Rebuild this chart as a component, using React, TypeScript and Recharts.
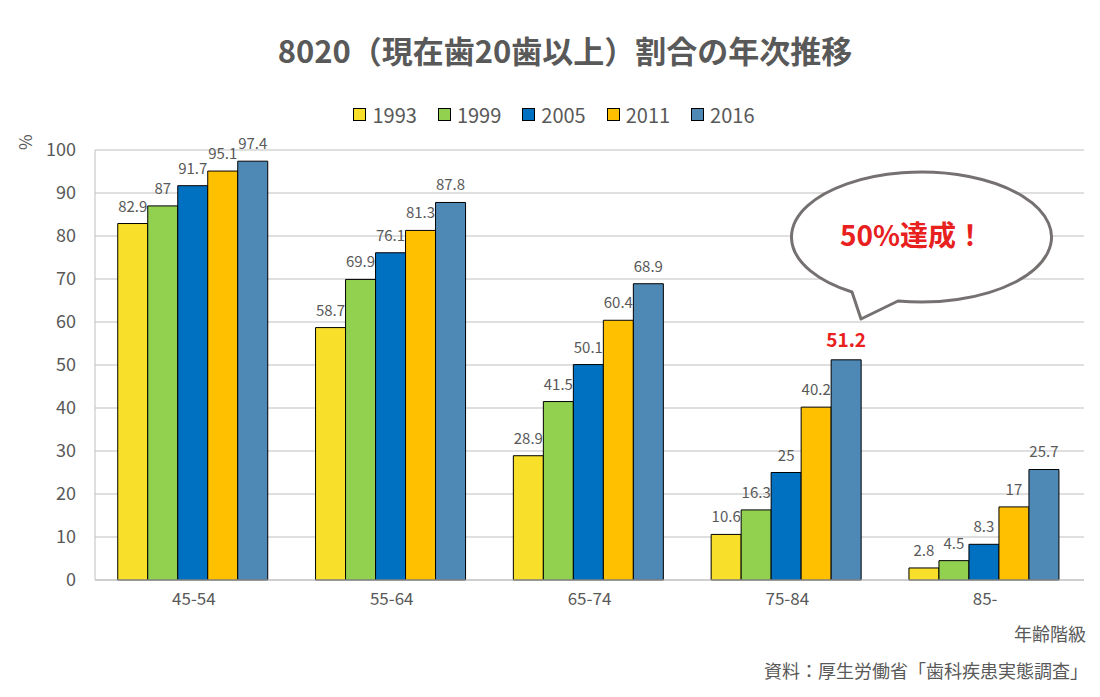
import React from 'react';
import { Bar, BarChart, CartesianGrid, LabelList, XAxis, YAxis } from 'recharts';

const ageGroups = ['45-54', '55-64', '65-74', '75-84', '85-'];
const years = ['1993', '1999', '2005', '2011', '2016'];
const v1993 = [82.9, 58.7, 28.9, 10.6, 2.8];
const v1999 = [87, 69.9, 41.5, 16.3, 4.5];
const v2005 = [91.7, 76.1, 50.1, 25, 8.3];
const v2011 = [95.1, 81.3, 60.4, 40.2, 17];
const v2016 = [97.4, 87.8, 68.9, 51.2, 25.7];
const yTicks = [0, 10, 20, 30, 40, 50, 60, 70, 80, 90, 100];

const colors = ['#F7DF2A', '#92D050', '#0070C0', '#FFC000', '#4E89B6'];
const series = [v1993, v1999, v2005, v2011, v2016];

const data = ageGroups.map((age, i) => {
  const row: Record<string, string | number> = { age };
  years.forEach((y, k) => { row[y] = series[k][i]; });
  return row;
});

const FONT = '"Noto Sans CJK JP", "Noto Sans", sans-serif';
const GRAY = '#595959';

const highlightLabel = (props: any) => {
  const { x, y, width, value, index } = props;
  const hot = index === 3;
  return (
    <text
      x={x + width / 2}
      y={y - (hot ? 13 : 12)}
      textAnchor='middle'
      fill={hot ? '#E8201E' : GRAY}
      fontSize={hot ? 19 : 15}
      fontWeight={hot ? 700 : 400}
      fontFamily={FONT}
    >
      {value}
    </text>
  );
};

function App (): JSX.Element {
  return (
    <div style={{ position: 'absolute', left: 0, top: 0, width: 1100, height: 697, background: '#fff', fontFamily: FONT }}>
      <div style={{ position: 'absolute', top: 27, left: 0, width: 1130, textAlign: 'center', fontSize: 31, fontWeight: 700, color: GRAY }}>
        8020（現在歯20歯以上）割合の年次推移
      </div>
      <div style={{ position: 'absolute', top: 100, left: 0, width: 1108, display: 'flex', justifyContent: 'center', gap: 21, fontSize: 20, color: GRAY }}>
        {years.map((y, k) => (
          <div key={y} style={{ display: 'flex', alignItems: 'center' }}>
            <span style={{ width: 11, height: 11, background: colors[k], border: '1px solid #000', marginRight: 6, display: 'inline-block' }} />
            <span>{y}</span>
          </div>
        ))}
      </div>
      <BarChart
        width={1100}
        height={697}
        data={data}
        margin={{ top: 150, right: 16, bottom: 87, left: 35 }}
        barCategoryGap='11.5%'
        barGap={0}
      >
        <CartesianGrid vertical={false} stroke='#BFBFBF' />
        <XAxis
          dataKey='age'
          height={30}
          axisLine={{ stroke: '#BFBFBF' }}
          tickLine={false}
          tickSize={0}
          tickMargin={13}
          tick={{ fill: GRAY, fontSize: 17, fontFamily: FONT }}
        />
        <YAxis
          width={60}
          domain={[0, 100]}
          ticks={yTicks}
          interval={0}
          axisLine={{ stroke: '#BFBFBF' }}
          tickLine={false}
          tickSize={0}
          tickMargin={19}
          tick={{ fill: GRAY, fontSize: 18, fontFamily: FONT }}
        />
        <YAxis yAxisId='r' orientation='right' width={0} tick={false} tickLine={false} axisLine={{ stroke: '#BFBFBF' }} />
        {years.map((y, k) => (
          <Bar key={y} dataKey={y} fill={colors[k]} stroke='#000' strokeWidth={1} isAnimationActive={false}>
            {k === 4
              ? <LabelList dataKey={y} content={highlightLabel} />
              : <LabelList dataKey={y} position='top' offset={12} fill={GRAY} fontSize={15} fontFamily={FONT} />}
          </Bar>
        ))}
      </BarChart>
      <div style={{ position: 'absolute', left: 12, top: 150, transform: 'rotate(-90deg)', transformOrigin: 'left top', fontSize: 17, color: GRAY }}>%</div>
      <div style={{ position: 'absolute', right: 14, top: 620, fontSize: 18, color: GRAY }}>年齢階級</div>
      <div style={{ position: 'absolute', right: 12, top: 657, fontSize: 18, color: GRAY }}>資料：厚生労働省「歯科疾患実態調査」</div>
      <svg style={{ position: 'absolute', left: 0, top: 0 }} width={1100} height={697}>
        <path
          d='M 852 292 A 130 65 0 1 1 898 301 L 861 319 Z'
          fill='#fff'
          stroke='#767171'
          strokeWidth={3}
          strokeLinejoin='round'
        />
        <text x={912} y={246} textAnchor='middle' fill='#E8201E' fontSize={28} fontWeight={700} fontFamily={FONT}>50%達成！</text>
      </svg>
    </div>
  );
}

export default App;
